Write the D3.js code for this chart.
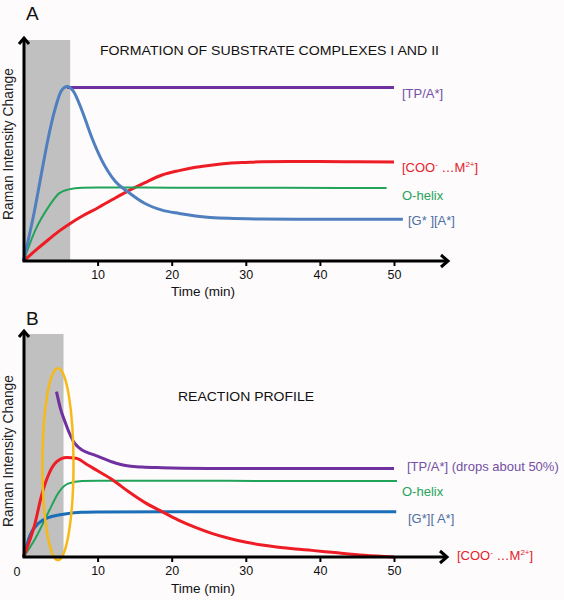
<!DOCTYPE html>
<html><head><meta charset="utf-8">
<script src="https://cdn.jsdelivr.net/npm/d3@7"></script>
<style>
body{margin:0;background:#fdfbfc}
svg{display:block}
text{font-family:"Liberation Sans",Arial,Helvetica,sans-serif}
</style>
</head><body>
<svg id="chart" width="564" height="600"></svg>
<script>
// ---------- DATA ----------
const xTicks = [10, 20, 30, 40, 50];
const panelLetters = ["A", "B"];
const panelTitles = ["FORMATION OF SUBSTRATE COMPLEXES I AND II", "REACTION PROFILE"];
const yAxisLabel = "Raman Intensity Change";
const xAxisLabel = "Time (min)";

// Panel A (time in min, relative intensity 0-100)
const shadeA = [0, 6.3];
const purpleA_t = [5.9, 50];
const purpleA_v = [78.5, 78.5];
const redA_t = [0, 1.7, 3.35, 4.8, 6.3, 8, 10, 12, 14, 16.4, 18.7, 21, 23.2, 25.5, 27.7, 30, 32.2, 36, 40, 45, 50];
const redA_v = [0, 5, 9.6, 13.5, 17, 20.5, 24, 27.8, 31.5, 35.5, 38.9, 40.9, 42.4, 43.4, 44.2, 44.6, 44.9, 45, 45, 44.9, 44.8];
const greenA_t = [0, 1.6, 3.4, 4.8, 6.1, 7.9, 10, 20, 35, 49];
const greenA_v = [0, 14, 24.6, 30.6, 32.4, 33.2, 33.3, 33.2, 33.1, 33];
const blueA_t = [0, 1.5, 2.5, 3.3, 4.2, 5.1, 5.9, 6.7, 7.9, 9.2, 10.5, 12.4, 14.2, 16.4, 18.7, 21, 23.2, 27.7, 32, 36.7, 44, 51.2];
const blueA_v = [0, 23, 41, 55, 68, 77, 79, 77, 68, 56, 46, 36, 31, 26, 23, 21.5, 20.4, 19.3, 19, 18.9, 18.9, 18.9];
const labelsA = ["[TP/A*]", "[COO|-| …M|2+|]", "O-helix", "[G* ][A*]"];

// Panel B
const shadeB = [0, 5.4];
const purpleB_t = [4.45, 5.0, 5.6, 6.2, 6.7, 7.3, 7.9, 8.8, 9.7, 11, 12, 13, 14.2, 16, 18.7, 25, 35, 50];
const purpleB_v = [74.8, 67, 61.2, 56, 52.5, 50, 48.4, 47, 46, 44.3, 43, 42, 41.2, 40.7, 40.4, 40.1, 40, 40];
const redB_t = [0, 1.5, 2.45, 3.35, 4.45, 5.8, 7.1, 8.5, 10, 12, 14.2, 16.4, 18.7, 20.9, 23.2, 25.4, 27.7, 29.9, 32.2, 34.4, 36.7, 38.9, 42, 46, 50];
const redB_v = [0, 14.5, 28, 37, 43, 45, 44.7, 42, 39, 35, 29.5, 24.6, 20.5, 16.7, 13.4, 10.7, 8.5, 6.8, 5.4, 4.4, 3.6, 3.0, 2.0, 0.8, 0];
const greenB_t = [0, 1.6, 3.4, 4.8, 6.1, 7.9, 10, 20, 35, 50.4];
const greenB_v = [0, 8.4, 20.5, 29.5, 33.3, 34.4, 34.5, 34.5, 34.4, 34.4];
const blueB_t = [0, 0.9, 2.0, 3.35, 5.6, 7.85, 10, 20, 35, 50.3];
const blueB_v = [0, 10, 15.2, 17.8, 19.5, 20.3, 20.4, 20.5, 20.5, 20.5];
const labelsB = ["[TP/A*] (drops about 50%)", "O-helix", "[G*][ A*]", "[COO|-| …M|2+|]"];
// highlighted region in B (centre time, centre value, half-width in min, half-height in value)
const ellipseB = [4.65, 42, 2.1, 43.4];

// ---------- STYLE ----------
const C = {
  purple: "#7030a0", red: "#ee1c24", green: "#22a35a", blueA: "#4f7fbf", blueB: "#1a6fb8",
  purpleT: "#7450a4", redT: "#e5222a", greenT: "#25a45a", blueT: "#4e6e9f",
  gray: "#c0c0c0", yellow: "#f7b916"
};

const svg = d3.select("#chart");
svg.append("rect").attr("width", 564).attr("height", 600).attr("fill", "#fdfbfc");

function zip(t, v) { return t.map((d, i) => [d, v[i]]); }

function addLabel(g, txt, x, y, color, size) {
  const parts = txt.split("|");
  const t = g.append("text").attr("x", x).attr("y", y).attr("fill", color).attr("font-size", size);
  parts.forEach((p, i) => {
    if (i % 2 === 1) {
      t.append("tspan").attr("font-size", size * 0.62).attr("dy", -5).text(p);
    } else {
      const ts = t.append("tspan").text(p);
      if (i > 0) ts.attr("dy", 5);
    }
  });
}

function panel(cfg) {
  const g = svg.append("g");
  const x = d3.scaleLinear().domain([0, 50]).range([23.5, 394]);
  const y = d3.scaleLinear().domain([0, 100]).range([cfg.y0, cfg.y0 - 221]);

  g.append("rect")
    .attr("x", x(cfg.shade[0])).attr("width", x(cfg.shade[1]) - x(cfg.shade[0]))
    .attr("y", cfg.shadeTop).attr("height", cfg.y0 - cfg.shadeTop)
    .attr("fill", C.gray);

  const line = d3.line().x(d => x(d[0])).y(d => y(d[1])).curve(d3.curveMonotoneX);
  cfg.series.forEach(s => {
    g.append("path").attr("d", line(zip(s.t, s.v)))
      .attr("fill", "none").attr("stroke", s.color).attr("stroke-width", s.w)
      .attr("stroke-linecap", "butt").attr("stroke-linejoin", "round");
  });

  if (cfg.ellipse) {
    const e = cfg.ellipse;
    g.append("ellipse")
      .attr("cx", x(e[0])).attr("cy", y(e[1]))
      .attr("rx", x(e[0] + e[2]) - x(e[0])).attr("ry", y(e[1]) - y(e[1] + e[3]))
      .attr("fill", "none").attr("stroke", C.yellow).attr("stroke-width", 2.5);
  }

  const ox = x(0) + 0.5, oy = cfg.y0;
  g.append("path").attr("d", `M${ox},${oy} V${cfg.yTip + 1}`)
    .attr("stroke", "#000").attr("stroke-width", 3).attr("fill", "none");
  g.append("path").attr("d", `M${ox - 5},${cfg.yTip + 7} L${ox},${cfg.yTip + 1} L${ox + 5},${cfg.yTip + 7}`)
    .attr("stroke", "#000").attr("stroke-width", 3).attr("fill", "none").attr("stroke-linejoin", "miter");
  g.append("path").attr("d", `M${ox - 1.5},${oy} H${cfg.xTip - 1}`)
    .attr("stroke", "#000").attr("stroke-width", 3).attr("fill", "none");
  g.append("path").attr("d", `M${cfg.xTip - 8},${oy - 6} L${cfg.xTip - 1},${oy} L${cfg.xTip - 8},${oy + 6}`)
    .attr("stroke", "#000").attr("stroke-width", 3).attr("fill", "none").attr("stroke-linejoin", "miter");

  const xAxis = d3.axisBottom(x).tickValues(xTicks).tickSize(4).tickPadding(4).tickFormat(d3.format("d"));
  const ax = g.append("g").attr("transform", `translate(0,${oy + 1})`).call(xAxis);
  ax.select(".domain").remove();
  ax.selectAll(".tick line").attr("stroke", "#000").attr("stroke-width", 2);
  ax.selectAll(".tick text").attr("font-size", 12.5).attr("fill", "#111")
    .attr("font-family", '"Liberation Sans",Arial,sans-serif');
  if (cfg.zero) {
    g.append("text").attr("x", 17).attr("y", oy + 19).attr("text-anchor", "middle")
      .attr("font-size", 12.5).attr("fill", "#111").text("0");
  }

  g.append("text").attr("x", 203).attr("y", cfg.xLabelY).attr("text-anchor", "middle")
    .attr("font-size", 13.5).attr("fill", "#111").text(xAxisLabel);
  g.append("text").attr("transform", `translate(13,${cfg.yLabelY}) rotate(-90)`)
    .attr("text-anchor", "middle").attr("font-size", 13.8).attr("fill", "#222").text(yAxisLabel);

  g.append("text").attr("x", 26).attr("y", cfg.letterY).attr("font-size", 19).attr("fill", "#111").text(cfg.letter);
  g.append("text").attr("x", cfg.titleX).attr("y", cfg.titleY).attr("font-size", 13.5).attr("fill", "#111")
    .attr("textLength", cfg.titleW).attr("lengthAdjust", "spacingAndGlyphs").text(cfg.title);

  cfg.labels.forEach(l => addLabel(g, l.text, l.x, l.y, l.color, 13));
}

panel({
  y0: 261, yTip: 37, xTip: 449, shade: shadeA, shadeTop: 40,
  series: [
    { t: redA_t, v: redA_v, color: C.red, w: 3 },
    { t: greenA_t, v: greenA_v, color: C.green, w: 2 },
    { t: purpleA_t, v: purpleA_v, color: C.purple, w: 3 },
    { t: blueA_t, v: blueA_v, color: C.blueA, w: 3 }
  ],
  zero: false, xLabelY: 296, yLabelY: 144, letter: panelLetters[0], letterY: 20,
  title: panelTitles[0], titleX: 100, titleY: 55, titleW: 339,
  labels: [
    { text: labelsA[0], x: 402, y: 98, color: C.purpleT },
    { text: labelsA[1], x: 402, y: 172, color: C.redT },
    { text: labelsA[2], x: 402, y: 200, color: C.greenT },
    { text: labelsA[3], x: 408, y: 225, color: C.blueT }
  ]
});

panel({
  y0: 557, yTip: 330, xTip: 448, shade: shadeB, shadeTop: 334,
  series: [
    { t: greenB_t, v: greenB_v, color: C.green, w: 2 },
    { t: blueB_t, v: blueB_v, color: C.blueB, w: 3 },
    { t: redB_t, v: redB_v, color: C.red, w: 3 },
    { t: purpleB_t, v: purpleB_v, color: C.purple, w: 3 }
  ],
  ellipse: ellipseB,
  zero: true, xLabelY: 593, yLabelY: 451, letter: panelLetters[1], letterY: 325,
  title: panelTitles[1], titleX: 178, titleY: 401, titleW: 136,
  labels: [
    { text: labelsB[0], x: 407, y: 471, color: C.purpleT },
    { text: labelsB[1], x: 402, y: 496, color: C.greenT },
    { text: labelsB[2], x: 408, y: 523, color: C.blueT },
    { text: labelsB[3], x: 457, y: 560, color: C.redT }
  ]
});
</script>
</body></html>
